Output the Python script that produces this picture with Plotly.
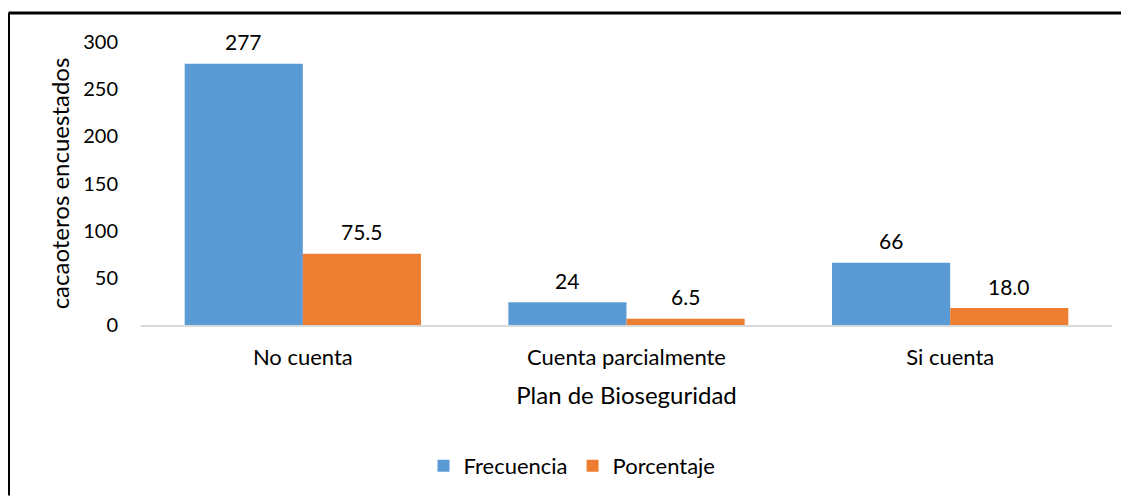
import plotly.graph_objects as go

# ── Data ──────────────────────────────────────────────────────────────────────
categorias = ["No cuenta", "Cuenta parcialmente", "Si cuenta"]
frecuencia = [277, 24, 66]
porcentaje = [75.5, 6.5, 18.0]

AZUL    = "#5B9BD5"
NARANJA = "#ED7D31"
FONT    = "Lato, Calibri, sans-serif"

# ── Layout (px) ────────────────────────────────────────────────────────────────
# la page a une marge de 8 px : la figure commence en (8, 8)
W, H = 1121, 489
M_L, M_R, M_T, M_B = 133, 17, 34, 171
PW = W - M_L - M_R
PH = H - M_T - M_B
BAR_PX = PW / 3 * 0.73 / 2


def px_x(x):
    return (x - M_L) / PW


def px_y(y):
    return (H - M_B - y) / PH


fig = go.Figure()
fig.add_trace(go.Bar(name="Frecuencia", x=categorias, y=frecuencia,
                     marker=dict(color=AZUL, line=dict(width=0))))
fig.add_trace(go.Bar(name="Porcentaje", x=categorias, y=porcentaje,
                     marker=dict(color=NARANJA, line=dict(width=0))))

# étiquettes au-dessus des barres
for vals, shift, fmt in [(frecuencia, -BAR_PX / 2, "{:.0f}"), (porcentaje, BAR_PX / 2, "{:.1f}")]:
    for cat, v in zip(categorias, vals):
        fig.add_annotation(x=cat, y=v, xshift=shift, yshift=22, text=fmt.format(v),
                           showarrow=False, font=dict(size=21, color="#000"))

fig.update_layout(
    width=W, height=H,
    margin=dict(l=M_L, r=M_R, t=M_T, b=M_B),
    paper_bgcolor="white", plot_bgcolor="white",
    font=dict(family=FONT, size=20, color="#000"),
    barmode="group", bargap=0.27, bargroupgap=0,
    showlegend=True,
    legend=dict(orientation="h", x=px_x(564), y=px_y(458), xanchor="center", yanchor="middle",
                font=dict(size=22), itemsizing="constant", traceorder="normal"),
    xaxis=dict(showgrid=False, showline=True, linecolor="#d9d9d9", linewidth=2,
               ticks="", ticklabelstandoff=12, tickfont=dict(size=22),
               title=dict(text="Plan de Bioseguridad", font=dict(size=24), standoff=18)),
    yaxis=dict(range=[0, 300], dtick=50, showgrid=False, showline=False, zeroline=False,
               ticks="", ticklabelstandoff=22, tickfont=dict(size=20),
               title=dict(text="cacaoteros encuestados", font=dict(size=24), standoff=6)),
    shapes=[
        dict(type="line", xref="paper", yref="paper", x0=px_x(0.5), x1=px_x(W),
             y0=px_y(5), y1=px_y(5), line=dict(color="#000", width=3)),
        dict(type="line", xref="paper", yref="paper", x0=px_x(0.5), x1=px_x(0.5),
             y0=px_y(5), y1=px_y(H), line=dict(color="#000", width=3)),
    ],
)

fig.write_html("out.html")
